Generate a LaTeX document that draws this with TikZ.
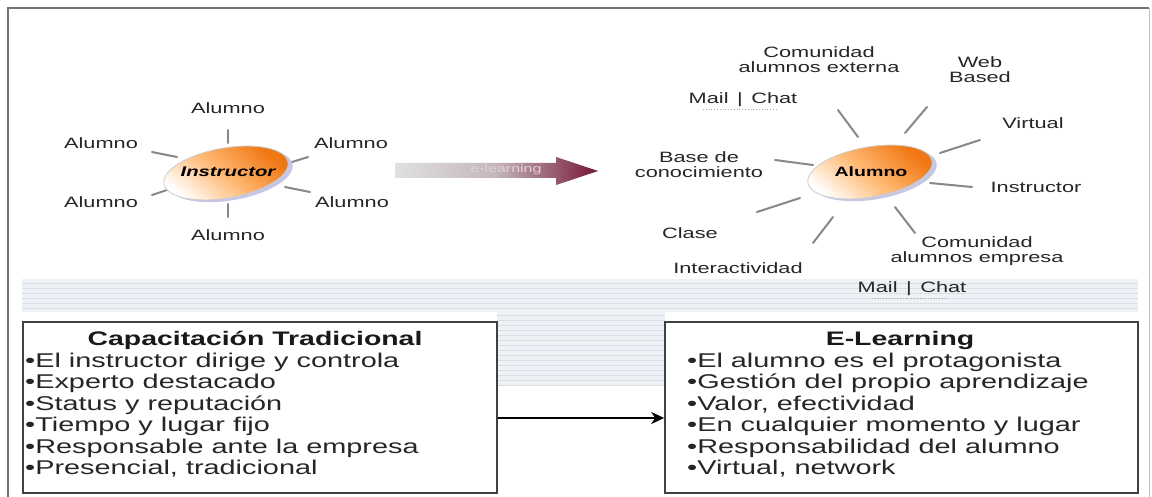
\documentclass[tikz,border=0pt]{standalone}
\usepackage{fontspec}
\setmainfont{Liberation Sans}[FakeStretch=1.45]
\usetikzlibrary{shapes.geometric,arrows.meta}
\definecolor{maroonA}{RGB}{118,22,55}
\definecolor{bandc}{RGB}{238,241,245}
\definecolor{bandl}{RGB}{218,223,230}
\definecolor{spokec}{RGB}{135,135,140}
\definecolor{orangeA}{RGB}{240,120,20}
\tikzset{
  lbl/.style={font=\fontsize{15}{15}\selectfont, align=center, inner sep=0pt, text=black!85},
  spoke/.style={draw=spokec, line width=2pt, line cap=round},
  boxc/.style={draw=black!75, line width=1.6pt, fill=white, inner sep=0pt},
  item/.style={font=\fontsize{19.9}{21.5}\selectfont, anchor=base west, inner sep=0pt, text=black!85},
  ttl/.style={font=\bfseries\fontsize{19.6}{21.5}\selectfont, anchor=base, inner sep=0pt, text=black!90},
  conn/.style={draw=black, line width=2.2pt, -{Stealth[length=13pt,width=12pt,inset=4pt]}},
}
\begin{document}
\begin{tikzpicture}[x=1pt,y=-1pt]
\useasboundingbox (0,0) rectangle (1152,497);
\fill[white] (0,0) rectangle (1152,497);

% striped band
\fill[bandc] (22,279) rectangle (1138,312);
\fill[bandc] (497,312) rectangle (665,386);
\foreach \yy in {283,288,...,310} \draw[bandl, line width=0.8pt] (22,\yy) -- (1138,\yy);
\foreach \yy in {315,320,...,385} \draw[bandl, line width=0.8pt] (497,\yy) -- (665,\yy);

% outer frame
\draw[black!55, line width=2pt] (8,497) -- (8,8) -- (1149,8);
\draw[black!25, line width=1pt] (1149,8) -- (1149,497);

% ---------- left sun ----------
\draw[spoke] (228,130) -- (228,143);
\draw[spoke] (228,204) -- (228,217);
\draw[spoke] (152,152) -- (177,157);
\draw[spoke] (152,195) -- (176,187);
\draw[spoke] (292,162) -- (308,157);
\draw[spoke] (285,187) -- (310,192);
\begin{scope}[rotate around={10:(226,173)}]
  \fill[black!45!blue!40, opacity=0.55] (230,176) ellipse [x radius=63, y radius=25];
  \shade[top color=orangeA, bottom color=white, middle color=orange!55, shading angle=-40]
    (226,173) ellipse [x radius=63, y radius=25];
  \draw[black!20, line width=0.8pt] (226,173) ellipse [x radius=63, y radius=25];
\end{scope}
\node[inner sep=0pt, font=\bfseries\itshape\fontsize{14}{14}\selectfont] (instr) at (228,172) {Instructor};
\node[lbl] (a1) at (228,108) {Alumno};
\node[lbl] (a2) at (101,143) {Alumno};
\node[lbl] (a3) at (351,143) {Alumno};
\node[lbl] (a4) at (101,202) {Alumno};
\node[lbl] (a5) at (352,202) {Alumno};
\node[lbl] (a6) at (228,235) {Alumno};

% ---------- middle arrow ----------
\shade[left color=black!12, right color=maroonA, middle color=maroonA!45!black!30]
  (395,163) -- (556,163) -- (556,157) -- (598,171) -- (556,185) -- (556,178) -- (395,178) -- cycle;
\node[inner sep=0pt, text=white!80!maroonA, font=\fontsize{11}{11}\selectfont] (elabel) at (506,170) {e-learning};

% ---------- right sun ----------
\draw[spoke] (838,110) -- (858,137);
\draw[spoke] (905,133) -- (927,107);
\draw[spoke] (940,153) -- (980,140);
\draw[spoke] (930,183) -- (972,187);
\draw[spoke] (895,207) -- (915,233);
\draw[spoke] (775,160) -- (813,165);
\draw[spoke] (757,212) -- (800,198);
\draw[spoke] (813,243) -- (833,217);
\begin{scope}[rotate around={10:(870,172)}]
  \fill[black!45!blue!40, opacity=0.55] (874,175) ellipse [x radius=63, y radius=25];
  \shade[top color=orangeA, bottom color=white, middle color=orange!55, shading angle=-40]
    (870,172) ellipse [x radius=63, y radius=25];
  \draw[black!20, line width=0.8pt] (870,172) ellipse [x radius=63, y radius=25];
\end{scope}
\node[inner sep=0pt, font=\bfseries\fontsize{13.5}{13.5}\selectfont] (alum) at (871,172) {Alumno};
\node[lbl] (cext) at (819,60) {Comunidad\\alumnos externa};
\node[lbl] (web) at (980,70) {Web\\Based};
\node[lbl] (mc1) at (743,100) {Mail \,|\, Chat};
\draw[black!35, line width=0.8pt, dotted] (703,109) -- (777,109);
\node[lbl] (virt) at (1033,123) {Virtual};
\node[lbl] (base) at (699,165) {Base de\\conocimiento};
\node[lbl] (inst) at (1036,187) {Instructor};
\node[lbl] (clase) at (690,233) {Clase};
\node[lbl] (cemp) at (977,251) {Comunidad\\alumnos empresa};
\node[lbl] (inter) at (738,268) {Interactividad};
\node[lbl] (mc2) at (912,289) {Mail \,|\, Chat};
\draw[black!35, line width=0.8pt, dotted] (872,298) -- (946,298);

% ---------- bottom boxes ----------
\node[boxc, minimum width=474pt, minimum height=171pt] (lbox) at (260,407.5) {};
\node[boxc, minimum width=473pt, minimum height=171pt] (rbox) at (901.5,407.5) {};
\draw[conn] ([yshift=-10.5pt]lbox.east) -- ([yshift=-10.5pt]rbox.west);

\node[ttl] (lt) at (255,345) {Capacitación Tradicional};
\node[item] (l1) at (25,367) {•El instructor dirige y controla};
\node[item] (l2) at (25,388.5) {•Experto destacado};
\node[item] (l3) at (25,410) {•Status y reputación};
\node[item] (l4) at (25,431.5) {•Tiempo y lugar fijo};
\node[item] (l5) at (25,453) {•Responsable ante la empresa};
\node[item] (l6) at (25,474) {•Presencial, tradicional};

\node[ttl] (rt) at (900,345) {E-Learning};
\node[item] (r1) at (687,367) {•El alumno es el protagonista};
\node[item] (r2) at (687,388.5) {•Gestión del propio aprendizaje};
\node[item] (r3) at (687,410) {•Valor, efectividad};
\node[item] (r4) at (687,431.5) {•En cualquier momento y lugar};
\node[item] (r5) at (687,453) {•Responsabilidad del alumno};
\node[item] (r6) at (687,474) {•Virtual, network};
\end{tikzpicture}
\end{document}
